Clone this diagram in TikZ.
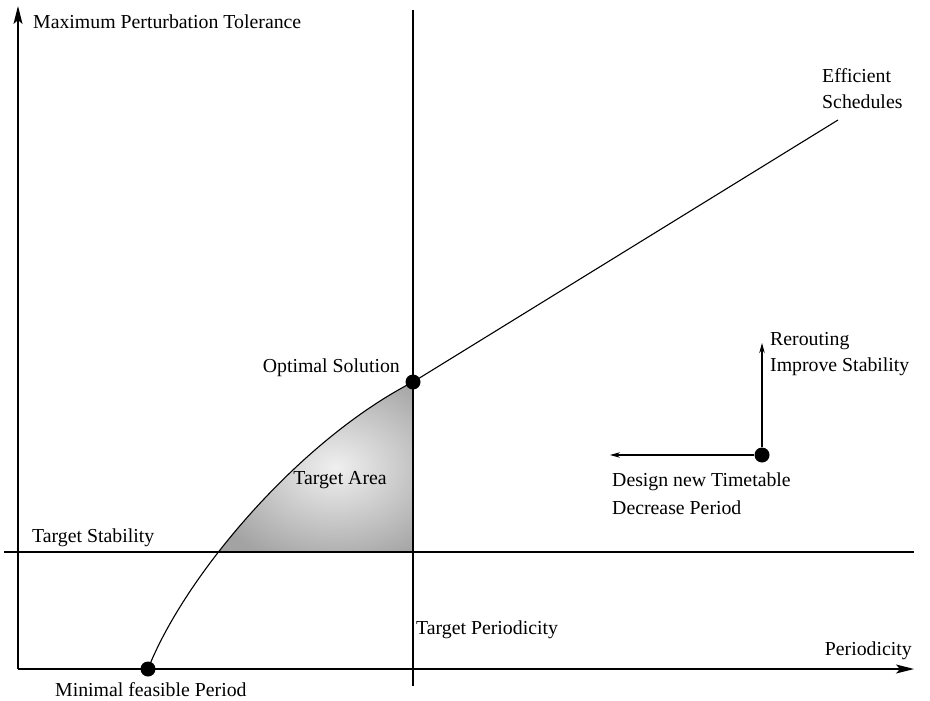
\documentclass[tikz,border=0pt]{standalone}
\usepackage{fontspec}
\setmainfont{Liberation Serif}
\usetikzlibrary{arrows.meta}
\begin{document}
\begin{tikzpicture}[x=1pt,y=-1pt,
  lbl/.style={font=\fontsize{19.8}{23}\selectfont, inner sep=0pt},
  ln/.style={line width=1.3pt},
  dotc/.style={circle, fill=black, minimum size=15pt, inner sep=0pt},
  bigtip/.style={-{Stealth[length=18pt,width=9pt,inset=4pt]}},
  smalltip/.style={-{Stealth[length=10pt,width=5.5pt]}}]
\useasboundingbox (0,0) rectangle (930,701);
% coordinates
\coordinate (O) at (18,669);
\coordinate (ytop) at (18,6);
\coordinate (xend) at (914,669);
\coordinate (vtop) at (413,10);
\coordinate (vbot) at (413,686);
\coordinate (hl) at (4,552);
\coordinate (hr) at (914,552);
\coordinate (eff) at (838,120);
\coordinate (cs) at (148,669);
\coordinate (ce) at (413,382);
% shaded target area
\begin{scope}
  \clip (0,0) rectangle (413,552);
  \clip (cs) .. controls (185,575) and (300,440) .. (ce) -- (413,669) -- cycle;
  \shade[inner color=gray!12, outer color=gray!72] (200,365) rectangle (470,570);
\end{scope}
% axes and lines
\draw[ln, bigtip] (O) -- (ytop);
\draw[ln, bigtip] (O) -- (xend);
\draw[ln] (vtop) -- (vbot);
\draw[ln] (hl) -- (hr);
\draw[line width=1.1pt] (cs) .. controls (185,575) and (300,440) .. (ce);
\draw[line width=1.1pt] (ce) -- (eff);
% dots
\node[dotc] (minp) at (cs) {};
\node[dotc] (opt) at (ce) {};
\node[dotc] (move) at (762,455) {};
\coordinate (up) at (762,343);
\coordinate (left) at (610,455);
\draw[line width=1.1pt, smalltip] (move) -- (up);
\draw[line width=1.1pt, smalltip] (move) -- (left);
% labels
\node[lbl, anchor=west] (tmax) at (33,22) {Maximum Perturbation Tolerance};
\node[lbl, anchor=west] (teff) at (822,76) {Efficient};
\node[lbl, anchor=west] (tsch) at (822,102) {Schedules};
\node[lbl, anchor=east] (topt) at (400,368) {Optimal Solution};
\node[lbl, anchor=west] (trer) at (770,341) {Rerouting};
\node[lbl, anchor=west] (timp) at (770,367) {Improve Stability};
\node[lbl, anchor=west] (tdes) at (612,482) {Design new Timetable};
\node[lbl, anchor=west] (tdec) at (612,508) {Decrease Period};
\node[lbl] (tarea) at (340,480) {Target Area};
\node[lbl, anchor=west] (tstab) at (32,538) {Target Stability};
\node[lbl, anchor=west] (tper) at (416,630) {Target Periodicity};
\node[lbl, anchor=east] (tperi) at (912,651) {Periodicity};
\node[lbl, anchor=west] (tmin) at (55,690) {Minimal feasible Period};
\end{tikzpicture}
\end{document}
